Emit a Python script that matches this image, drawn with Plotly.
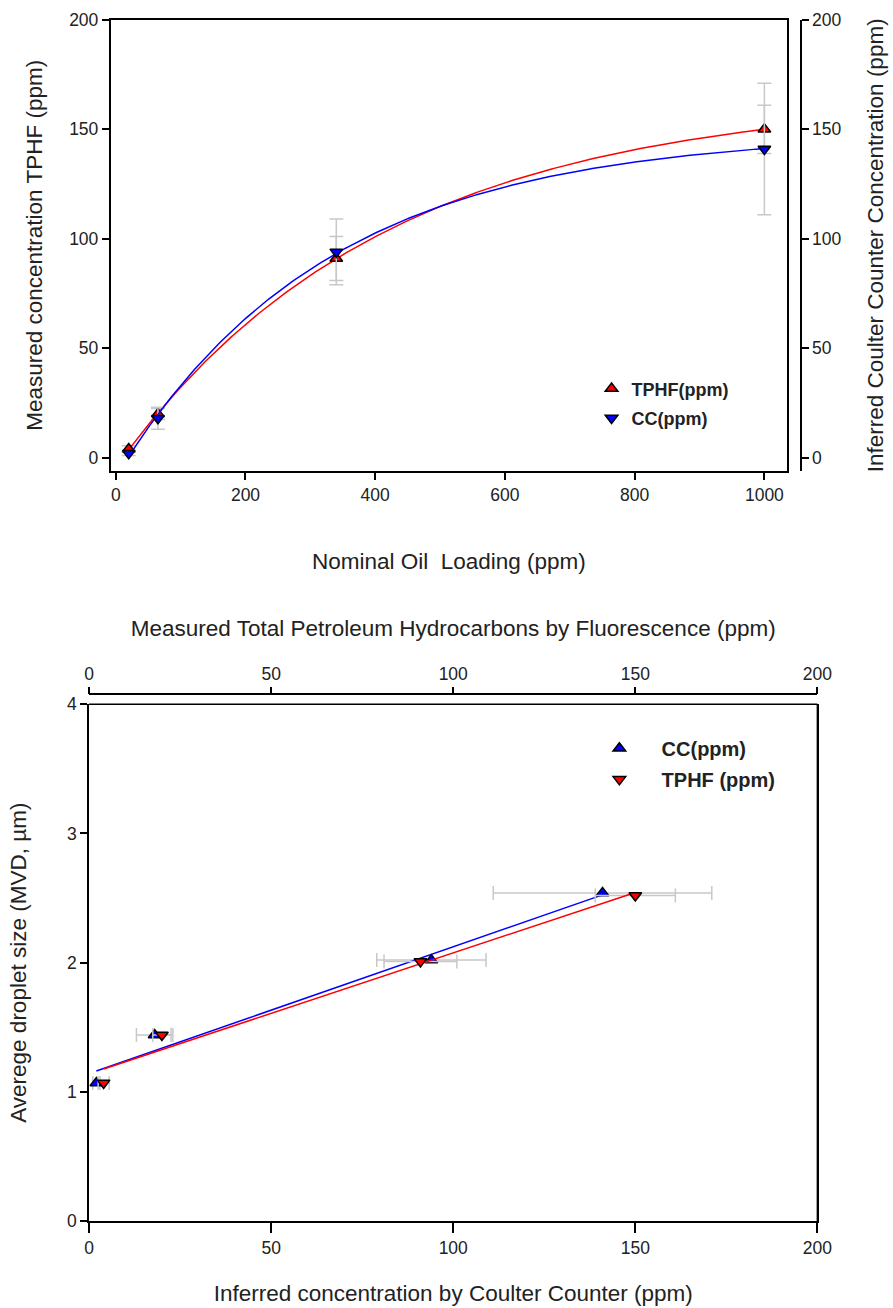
import numpy as np
import plotly.graph_objects as go

# ---------------- data ----------------
nominal_ppm = [20, 65, 340, 1000]
tphf_ppm = [4, 20, 91, 150]
tphf_err = [1.5, 2.5, 10, 11]
cc_ppm = [2, 18, 94, 141]
cc_err = [1, 5, 15, 30]
mvd_cc = [1.07, 1.44, 2.02, 2.54]
mvd_tphf = [1.07, 1.44, 2.01, 2.52]

conc_ticks = [0, 50, 100, 150, 200]
nominal_ticks = [0, 200, 400, 600, 800, 1000]
mvd_ticks = [0, 1, 2, 3, 4]

W, H = 893, 1308
FONT = "Liberation Sans, Arial, sans-serif"
TXT = "#222222"
ERR = "#c8c8c8"
NB = "\u00a0"


def fit_exp_rise(x, y):
    """least squares fit of y = y0 + a*(1-exp(-b x))"""
    x = np.asarray(x, float)
    y = np.asarray(y, float)
    best = None
    for b in np.linspace(2e-4, 0.02, 4000):
        A = np.column_stack([np.ones_like(x), 1 - np.exp(-b * x)])
        coef, *_ = np.linalg.lstsq(A, y, rcond=None)
        sse = float(np.sum((A @ coef - y) ** 2))
        if best is None or sse < best[0]:
            best = (sse, coef[0], coef[1], b)
    _, y0, a, b = best
    return lambda t: y0 + a * (1 - np.exp(-b * np.asarray(t, float)))


def fit_line(x, y):
    m, c = np.polyfit(np.asarray(x, float), np.asarray(y, float), 1)
    return lambda t: m * np.asarray(t, float) + c


def px_x(p):
    return p / W


def px_y(p):
    return 1 - p / H


fig = go.Figure()

# ---------------- top chart ----------------
xs = np.linspace(min(nominal_ppm), max(nominal_ppm), 300)
f_tphf = fit_exp_rise(nominal_ppm, tphf_ppm)
f_cc = fit_exp_rise(nominal_ppm, cc_ppm)

fig.add_trace(go.Scatter(x=nominal_ppm, y=tphf_ppm, mode="markers",
                         error_y=dict(type="data", array=tphf_err, color=ERR, thickness=1.5, width=7),
                         marker=dict(size=0.1, color="rgba(0,0,0,0)"),
                         showlegend=False, hoverinfo="skip", xaxis="x", yaxis="y"))
fig.add_trace(go.Scatter(x=nominal_ppm, y=cc_ppm, mode="markers",
                         error_y=dict(type="data", array=cc_err, color=ERR, thickness=1.5, width=7),
                         marker=dict(size=0.1, color="rgba(0,0,0,0)"),
                         showlegend=False, hoverinfo="skip", xaxis="x", yaxis="y2"))
fig.add_trace(go.Scatter(x=xs, y=f_tphf(xs), mode="lines", line=dict(color="red", width=1.5),
                         showlegend=False, xaxis="x", yaxis="y"))
fig.add_trace(go.Scatter(x=xs, y=f_cc(xs), mode="lines", line=dict(color="blue", width=1.5),
                         showlegend=False, xaxis="x", yaxis="y2"))
fig.add_trace(go.Scatter(x=nominal_ppm, y=tphf_ppm, mode="markers", name="TPHF(ppm)",
                         marker=dict(symbol="triangle-up", size=11, color="red",
                                     line=dict(color="black", width=1.5)),
                         xaxis="x", yaxis="y", legend="legend", legendgroup="a"))
fig.add_trace(go.Scatter(x=nominal_ppm, y=cc_ppm, mode="markers", name="CC(ppm)",
                         marker=dict(symbol="triangle-down", size=11, color="blue",
                                     line=dict(color="black", width=1.5)),
                         xaxis="x", yaxis="y2", legend="legend", legendgroup="b"))

# ---------------- bottom chart ----------------
f_cc_lin = fit_line(cc_ppm, mvd_cc)
f_tphf_lin = fit_line(tphf_ppm, mvd_tphf)
xc = np.linspace(min(cc_ppm), max(cc_ppm), 100)
xt = np.linspace(min(tphf_ppm), max(tphf_ppm), 100)

fig.add_trace(go.Scatter(x=cc_ppm, y=mvd_cc, mode="markers",
                         error_x=dict(type="data", array=cc_err, color=ERR, thickness=1.5, width=7),
                         marker=dict(size=0.1, color="rgba(0,0,0,0)"),
                         showlegend=False, hoverinfo="skip", xaxis="x2", yaxis="y3"))
fig.add_trace(go.Scatter(x=tphf_ppm, y=mvd_tphf, mode="markers",
                         error_x=dict(type="data", array=tphf_err, color=ERR, thickness=1.5, width=7),
                         marker=dict(size=0.1, color="rgba(0,0,0,0)"),
                         showlegend=False, hoverinfo="skip", xaxis="x3", yaxis="y3"))
fig.add_trace(go.Scatter(x=xc, y=f_cc_lin(xc), mode="lines", line=dict(color="blue", width=1.5),
                         showlegend=False, xaxis="x2", yaxis="y3"))
fig.add_trace(go.Scatter(x=xt, y=f_tphf_lin(xt), mode="lines", line=dict(color="red", width=1.5),
                         showlegend=False, xaxis="x3", yaxis="y3"))
fig.add_trace(go.Scatter(x=cc_ppm, y=mvd_cc, mode="markers", name=NB * 4 + "CC(ppm)",
                         marker=dict(symbol="triangle-up", size=11, color="blue",
                                     line=dict(color="black", width=1.5)),
                         xaxis="x2", yaxis="y3", legend="legend2", legendgroup="c"))
fig.add_trace(go.Scatter(x=tphf_ppm, y=mvd_tphf, mode="markers", name=NB * 4 + "TPHF (ppm)",
                         marker=dict(symbol="triangle-down", size=11, color="red",
                                     line=dict(color="black", width=1.5)),
                         xaxis="x3", yaxis="y3", legend="legend2", legendgroup="d"))

axis_common = dict(showline=True, linecolor="black", linewidth=1.5, ticks="outside",
                   ticklen=7, tickwidth=1.5, tickcolor="black", showgrid=False, zeroline=False,
                   tickfont=dict(family=FONT, size=17.5, color=TXT))
title_font = dict(family=FONT, size=22.5, color=TXT)

top_x = [px_x(108), px_x(800)]
top_y = [px_y(468), px_y(10)]
bot_x = [px_x(86), px_x(831)]
bot_y = [px_y(1230), px_y(705)]

fig.update_layout(
    width=W, height=H, margin=dict(l=0, r=0, t=0, b=0),
    paper_bgcolor="white", plot_bgcolor="white",
    font=dict(family=FONT, color=TXT),
    xaxis=dict(axis_common, domain=top_x, anchor="y", range=[-8, 1035],
               tickvals=nominal_ticks, mirror=True,
               title=dict(text="Nominal Oil  Loading (ppm)", font=title_font, standoff=50)),
    yaxis=dict(axis_common, domain=top_y, anchor="x", range=[-6, 200],
               tickvals=conc_ticks, mirror=True,
               title=dict(text="Measured concentration TPHF (ppm)", font=title_font, standoff=20)),
    yaxis2=dict(axis_common, overlaying="y", side="right", anchor="free", position=px_x(814),
                range=[-6, 200], tickvals=conc_ticks,
                title=dict(text="Inferred Coulter Counter Concentration (ppm)", font=title_font,
                           standoff=26)),
    xaxis2=dict(axis_common, domain=bot_x, anchor="y3", range=[0, 200], tickvals=conc_ticks,
                ticklen=10,
                title=dict(text="Inferred concentration by Coulter Counter (ppm)", font=title_font,
                           standoff=28)),
    xaxis3=dict(axis_common, overlaying="x2", side="top", anchor="free", position=px_y(695),
                range=[0, 200], tickvals=conc_ticks,
                title=dict(text="Measured Total Petroleum Hydrocarbons by Fluorescence (ppm)",
                           font=title_font, standoff=20)),
    yaxis3=dict(axis_common, domain=bot_y, anchor="x2", range=[0, 4], tickvals=mvd_ticks,
                mirror=True,
                title=dict(text="Averege droplet size (MVD, µm)", font=title_font, standoff=34)),
    legend=dict(x=px_x(600), y=px_y(366), xanchor="left", yanchor="top",
                bgcolor="rgba(0,0,0,0)", font=dict(family=FONT, size=18, color=TXT, weight="bold"),
                itemwidth=30, tracegroupgap=3),
    legend2=dict(x=px_x(608), y=px_y(730), xanchor="left", yanchor="top",
                 bgcolor="rgba(0,0,0,0)", font=dict(family=FONT, size=20, color=TXT, weight="bold"),
                 itemwidth=30, tracegroupgap=2),
)

# frame lines for the bottom chart's top and right edges (top edge under offset top axis)
fig.add_shape(type="line", xref="paper", yref="paper", x0=bot_x[0], x1=bot_x[1], y0=bot_y[1], y1=bot_y[1],
              line=dict(color="black", width=1.5))
fig.add_shape(type="line", xref="paper", yref="paper", x0=bot_x[1], x1=bot_x[1], y0=bot_y[0], y1=bot_y[1],
              line=dict(color="black", width=1.5))

fig.write_html("out.html")
